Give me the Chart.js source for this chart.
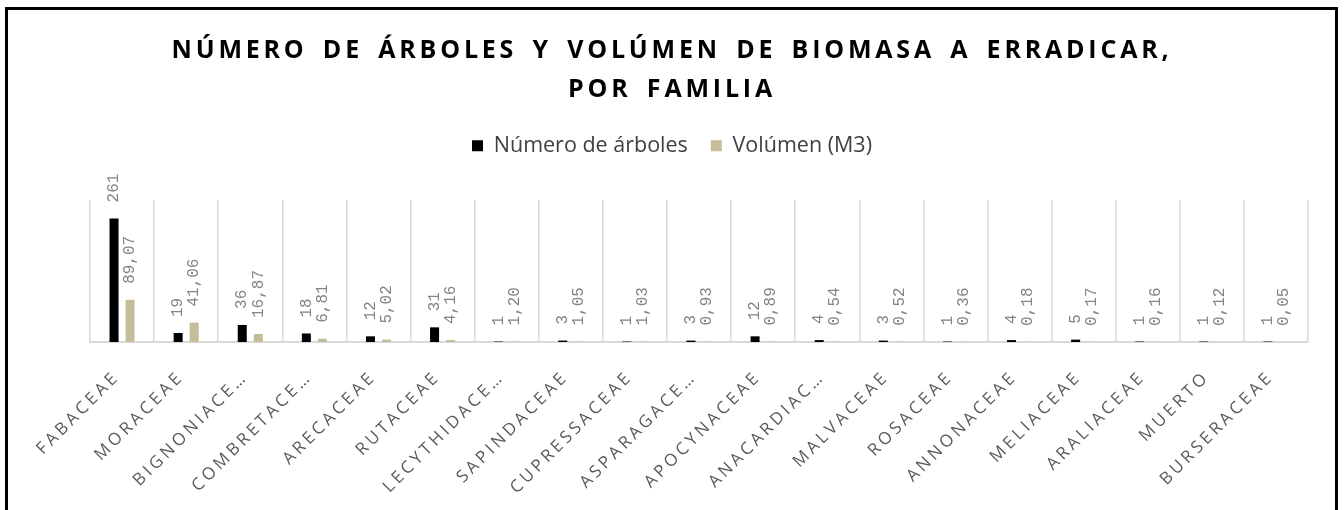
<!DOCTYPE html>
<html lang="es">
<head>
<meta charset="utf-8">
<title>Número de árboles y volumen de biomasa a erradicar, por familia</title>
<script src="https://cdn.jsdelivr.net/npm/chart.js@4.4.1/dist/chart.umd.min.js"></script>
<style>
  html, body { margin: 0; padding: 0; background: #fff; overflow: hidden; }
  #wrap { position: relative; width: 1344px; height: 510px; }
  #marco { position: absolute; left: 5px; top: 7px; width: 1327px; height: 530px; border: 3px solid #000; pointer-events: none; }
  canvas { position: absolute; left: 0; top: 0; }
</style>
</head>
<body>
<div id="wrap">
  <canvas id="familias" width="1344" height="510"></canvas>
  <div id="marco"></div>
</div>
<script>
// Familias botánicas y valores por familia
const familias = [
  'FABACEAE', 'MORACEAE', 'BIGNONIACE…', 'COMBRETACE…', 'ARECACEAE', 'RUTACEAE',
  'LECYTHIDACE…', 'SAPINDACEAE', 'CUPRESSACEAE', 'ASPARAGACE…', 'APOCYNACEAE',
  'ANACARDIAC…', 'MALVACEAE', 'ROSACEAE', 'ANNONACEAE', 'MELIACEAE', 'ARALIACEAE',
  'MUERTO', 'BURSERACEAE'
];
const numeroArboles = [261, 19, 36, 18, 12, 31, 1, 3, 1, 3, 12, 4, 3, 1, 4, 5, 1, 1, 1];
const volumenM3 = [89.07, 41.06, 16.87, 6.81, 5.02, 4.16, 1.20, 1.05, 1.03, 0.93, 0.89,
  0.54, 0.52, 0.36, 0.18, 0.17, 0.16, 0.12, 0.05];
const ejeY = { min: 0, max: 300 };

const formatos = [
  v => String(v),
  v => v.toFixed(2).replace('.', ',')
];

// etiquetas de valor giradas 90° encima de cada barra
const etiquetasBarras = {
  id: 'etiquetasBarras',
  afterDatasetsDraw(chart) {
    const ctx = chart.ctx;
    ctx.save();
    ctx.font = '16px "Liberation Mono"';
    ctx.fillStyle = '#848484';
    ctx.textAlign = 'left';
    ctx.textBaseline = 'middle';
    chart.data.datasets.forEach((ds, i) => {
      chart.getDatasetMeta(i).data.forEach((bar, j) => {
        ctx.save();
        ctx.translate(bar.x, bar.y - 16);
        ctx.rotate(-Math.PI / 2);
        ctx.fillText(formatos[i](ds.data[j]), 0, 0);
        ctx.restore();
      });
    });
    ctx.restore();
  }
};

// espaciado entre letras (y entre palabras) para el título y las categorías
function conEspaciado(obj, metodo, letras, palabras) {
  if (!obj || obj['_esp_' + metodo]) return;
  const original = obj[metodo];
  obj[metodo] = function (...args) {
    const c = this.ctx;
    c.save();
    c.letterSpacing = letras;
    if (palabras) c.wordSpacing = palabras;
    original.apply(this, args);
    c.restore();
  };
  obj['_esp_' + metodo] = true;
}

const espaciado = {
  id: 'espaciado',
  beforeInit(chart) {
    const fit = chart.legend.fit;
    chart.legend.fit = function () {
      fit.call(this);
      this.height = 88;
    };
  },
  afterLayout(chart) {
    conEspaciado(chart.scales.x, 'drawLabels', '3.5px');
    conEspaciado(chart.titleBlock, 'draw', '3.8px', '5px');
  }
};

// ejes verticales invisibles que reservan los márgenes del área de barras
const margen = ancho => ({
  display: true,
  grid: { display: false },
  border: { display: false },
  ticks: { display: false },
  afterFit(scale) { scale.width = ancho; }
});

new Chart(document.getElementById('familias'), {
  type: 'bar',
  data: {
    labels: familias,
    datasets: [
      {
        label: 'Número de árboles',
        data: numeroArboles,
        backgroundColor: '#000000',
        categoryPercentage: 0.5,
        barPercentage: 0.5625
      },
      {
        label: 'Volúmen (M3)',
        data: volumenM3,
        backgroundColor: '#C4BD97',
        categoryPercentage: 0.5,
        barPercentage: 0.5625
      }
    ]
  },
  options: {
    responsive: false,
    animation: false,
    devicePixelRatio: 1,
    events: [],
    layout: { padding: 0 },
    scales: {
      x: {
        z: 1,
        offset: true,
        grid: { display: true, offset: true, drawTicks: false, color: '#d9d9d9', lineWidth: 1.5 },
        border: { display: true, color: '#d9d9d9', width: 2 },
        ticks: {
          autoSkip: false,
          minRotation: 45,
          maxRotation: 45,
          padding: 25,
          labelOffset: -5,
          color: '#595959',
          font: { family: '"Open Sans"', size: 17 }
        },
        afterFit(scale) {
          scale.height = 168;
          scale.paddingLeft = 0;
          scale.paddingRight = 0;
        }
      },
      y: { ...margen(90), position: 'left', min: ejeY.min, max: ejeY.max },
      yDer: { ...margen(36), position: 'right' }
    },
    plugins: {
      tooltip: { enabled: false },
      title: {
        display: true,
        text: ['NÚMERO DE ÁRBOLES Y VOLÚMEN DE BIOMASA A ERRADICAR,', 'POR FAMILIA'],
        color: '#000000',
        font: { family: '"Open Sans"', size: 25, weight: 'bold', lineHeight: 39 / 25 },
        padding: { top: 31, bottom: 3 }
      },
      legend: {
        position: 'top',
        labels: {
          boxWidth: 11,
          boxHeight: 11,
          padding: 23,
          color: '#404040',
          font: { family: '"Open Sans"', size: 21.5 }
        }
      }
    }
  },
  plugins: [etiquetasBarras, espaciado]
});
</script>
</body>
</html>
